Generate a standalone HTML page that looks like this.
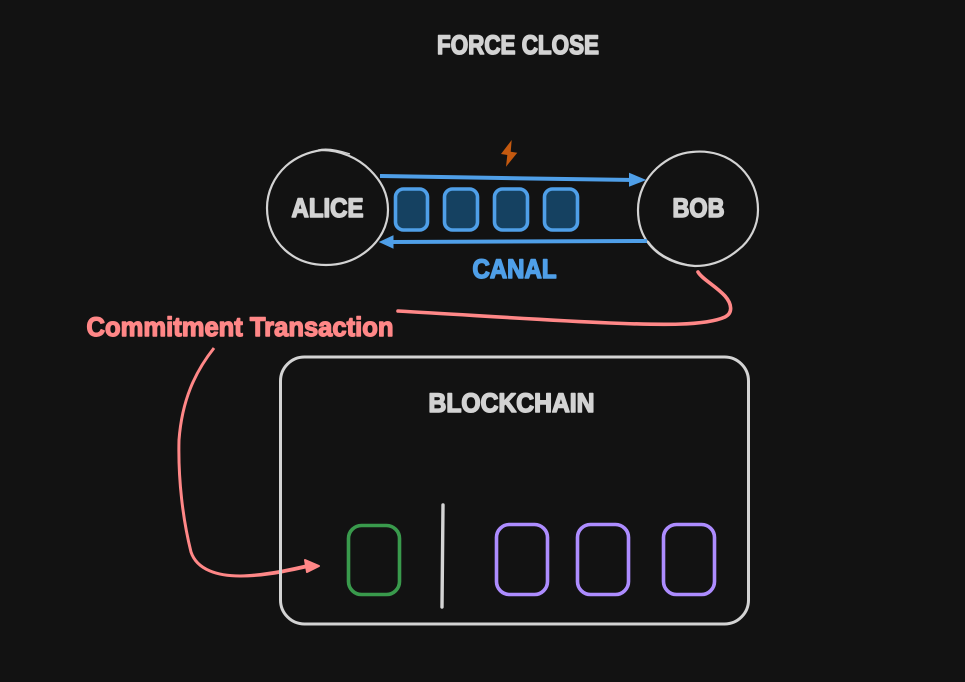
<!DOCTYPE html>
<html>
<head>
<meta charset="utf-8">
<style>
html,body{margin:0;padding:0;background:#121212;width:965px;height:682px;overflow:hidden}
svg{display:block}
text{font-family:"Liberation Sans",sans-serif;font-weight:700;paint-order:stroke;stroke-linejoin:round}
</style>
</head>
<body>
<svg width="965" height="682" viewBox="0 0 965 682" xmlns="http://www.w3.org/2000/svg">
<rect width="965" height="682" fill="#121212"/>

<text x="437" y="54" font-size="27" fill="#d3d3d3" stroke="#d3d3d3" stroke-width="1.6" textLength="162" lengthAdjust="spacingAndGlyphs">FORCE CLOSE</text>

<!-- Alice -->
<g fill="none" stroke="#d3d3d3">
<path stroke-width="2.200" d="M322 150C340 150 358 158 370 170C382 182 388 194 388 210C388 226 380 240 368 250C356 260 342 265 326 265C310 265 296 260 285 250C273 239 267 224 267 208C267 192 274 177 286 166C296 157 308 152 322 150Z"/>
<path stroke-width="1.300" d="M318 150C326 148 338 150 350 154"/>
<!-- Bob -->
<path stroke-width="2.200" d="M692 152C710 150 728 155 741 168C753 180 758 194 758 210C758 226 750 241 738 250C725 261 710 266 695 266C678 265 660 258 649 244C641 234 638 222 638 210C638 194 645 179 657 168C667 159 679 153 692 152Z"/>
<path stroke-width="1.300" d="M648 241C656 253 672 263 695 266"/>
</g>
<text x="291.500" y="217" font-size="27" fill="#d3d3d3" stroke="#d3d3d3" stroke-width="1.6" textLength="72" lengthAdjust="spacingAndGlyphs">ALICE</text>
<text x="672.500" y="217" font-size="27" fill="#d3d3d3" stroke="#d3d3d3" stroke-width="1.6" textLength="52" lengthAdjust="spacingAndGlyphs">BOB</text>

<!-- Lightning -->
<path d="M511.700 140L501 154L507.300 155L506 166.700L517.300 152.700L510.700 151.700Z" fill="#c4590f"/>

<!-- Channel arrows -->
<path d="M380 176C440 177 560 179 635 180" fill="none" stroke="#4f9fe8" stroke-width="4"/>
<path d="M629.500 173.500L645 180L629.500 186Z" fill="#4f9fe8" stroke="#4f9fe8" stroke-width="1"/>
<path d="M647 241C560 241 460 242 392 242" fill="none" stroke="#4f9fe8" stroke-width="4"/>
<path d="M393 236L380 242L393 248Z" fill="#4f9fe8" stroke="#4f9fe8" stroke-width="1"/>

<!-- Channel boxes -->
<g fill="#154161" stroke="#4f9fe8" stroke-width="3.600">
<rect x="395.500" y="189" width="32" height="41" rx="8"/>
<rect x="444.500" y="189" width="33" height="41" rx="8"/>
<rect x="494.500" y="189" width="33" height="41" rx="8"/>
<rect x="544.500" y="189" width="33" height="41" rx="8"/>
</g>

<text x="472.500" y="278" font-size="27" fill="#4f9fe8" stroke="#4f9fe8" stroke-width="1.600" textLength="84" lengthAdjust="spacingAndGlyphs">CANAL</text>

<!-- Pink connectors -->
<path d="M698 272C702 279 716 286 725 296C732 304 733 313 725 317C705 326 660 325 610 323C540 320 470 315 398 311" fill="none" stroke="#ff8787" stroke-width="3.600" stroke-linecap="round"/>
<text x="86.500" y="336" font-size="27" fill="#ff8787" stroke="#ff8787" stroke-width="1.400" textLength="307" lengthAdjust="spacingAndGlyphs">Commitment Transaction</text>
<path d="M214 348C195 372 182 400 179 440C178 480 183 520 191 552C197 570 218 576 240 576" fill="none" stroke="#ff8787" stroke-width="3"/>
<path d="M240 574.500C265 573.500 285 569.200 308 564L308 568C285 573 265 577.600 240 577.500Z" fill="#ff8787"/>
<path d="M305 560L319 566L307 572Z" fill="#ff8787" stroke="#ff8787" stroke-width="2" stroke-linejoin="round"/>

<!-- Blockchain -->
<rect x="280.500" y="357" width="468" height="267" rx="24" fill="none" stroke="#d3d3d3" stroke-width="3"/>
<text x="428.500" y="412" font-size="27" fill="#d3d3d3" stroke="#d3d3d3" stroke-width="1.600" textLength="166" lengthAdjust="spacingAndGlyphs">BLOCKCHAIN</text>

<rect x="348.500" y="525.500" width="51" height="69" rx="13" fill="none" stroke="#399a4c" stroke-width="3.600"/>
<path d="M443 505L442 607" stroke="#d3d3d3" stroke-width="3.400" stroke-linecap="round"/>
<g fill="none" stroke="#ad8cff" stroke-width="3.600">
<rect x="496.500" y="524.500" width="51" height="70" rx="13"/>
<rect x="577.500" y="524.500" width="51" height="70" rx="13"/>
<rect x="663.500" y="524.500" width="51" height="70" rx="13"/>
</g>
</svg>
</body>
</html>
